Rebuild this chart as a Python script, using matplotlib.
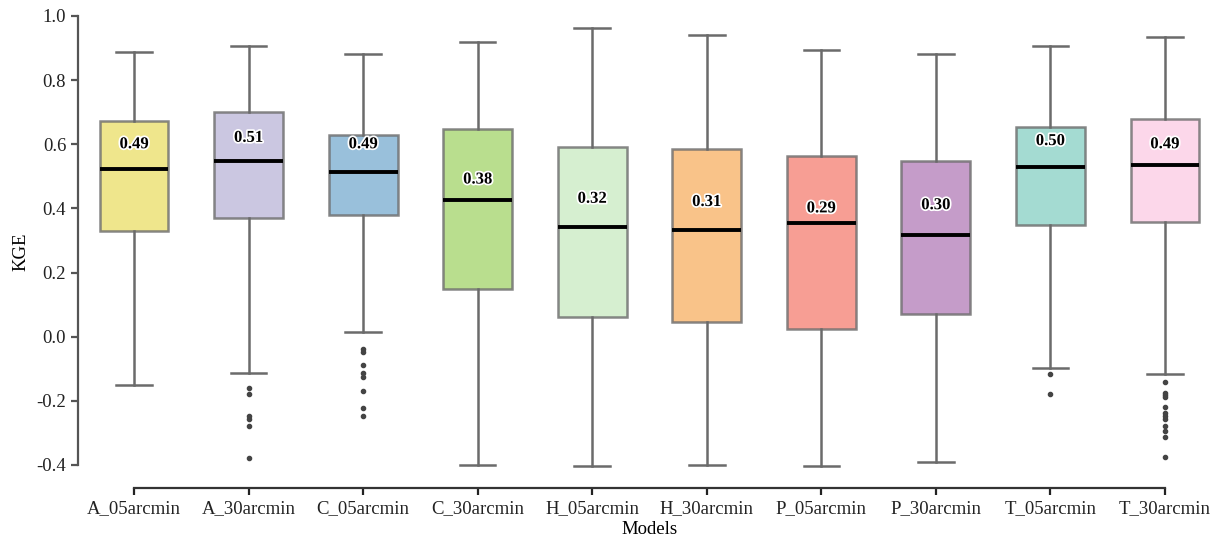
import matplotlib
matplotlib.use('Agg')
import matplotlib.pyplot as plt
import matplotlib.patheffects as pe

plt.rcParams['font.family'] = ['Liberation Serif', 'DejaVu Serif']

models = ['A_05arcmin', 'A_30arcmin', 'C_05arcmin', 'C_30arcmin', 'H_05arcmin',
          'H_30arcmin', 'P_05arcmin', 'P_30arcmin', 'T_05arcmin', 'T_30arcmin']

# box statistics of KGE per model
whis_hi = [0.888, 0.907, 0.882, 0.920, 0.964, 0.940, 0.895, 0.882, 0.907, 0.935]
q3 = [0.674, 0.700, 0.630, 0.649, 0.592, 0.586, 0.564, 0.549, 0.655, 0.680]
med = [0.524, 0.549, 0.515, 0.427, 0.343, 0.334, 0.355, 0.318, 0.530, 0.536]
q1 = [0.330, 0.371, 0.380, 0.150, 0.062, 0.047, 0.025, 0.072, 0.349, 0.358]
whis_lo = [-0.150, -0.112, 0.016, -0.400, -0.402, -0.400, -0.402, -0.390, -0.097, -0.115]
means = [0.49, 0.51, 0.49, 0.38, 0.32, 0.31, 0.29, 0.30, 0.50, 0.49]

outliers = [
    [],
    [-0.159, -0.178, -0.249, -0.256, -0.278, -0.377],
    [-0.037, -0.047, -0.087, -0.112, -0.125, -0.168, -0.221, -0.249],
    [], [], [], [], [],
    [-0.118, -0.178],
    [-0.140, -0.175, -0.181, -0.187, -0.218, -0.237, -0.246, -0.256,
     -0.278, -0.293, -0.312, -0.374],
]

colors = ['#ece070', '#bebada', '#80b1d3', '#a8d672', '#ccebc5',
          '#f8b56c', '#f5867a', '#b783bc', '#8dd3c7', '#fccde5']

stats = []
for i in range(len(models)):
    stats.append({'label': models[i], 'whishi': whis_hi[i], 'q3': q3[i], 'med': med[i],
                  'q1': q1[i], 'whislo': whis_lo[i], 'fliers': outliers[i]})

fig = plt.figure(figsize=(12.2, 5.41), dpi=100)
ax = fig.add_axes([78 / 1220, 53 / 541, 1143 / 1220, (488 - 16) / 541])

grey = '#6b6b6b'
bp = ax.bxp(stats, positions=range(len(models)), widths=0.6, patch_artist=True,
            boxprops=dict(edgecolor=grey, linewidth=1.8),
            whiskerprops=dict(color=grey, linewidth=1.8),
            capprops=dict(color=grey, linewidth=1.8),
            capwidths=0.31,
            medianprops=dict(color='black', linewidth=2.8),
            flierprops=dict(marker='o', markersize=3, markerfacecolor='#444444',
                            markeredgecolor='#444444', linestyle='none'))
for patch, c in zip(bp['boxes'], colors):
    patch.set_facecolor(c)
    patch.set_alpha(0.8)
    patch.set_edgecolor(grey)

for i, m in enumerate(means):
    ax.text(i, m + 0.11, '%.2f' % m, ha='center', va='center', fontsize=12,
            fontweight='bold', color='black',
            path_effects=[pe.withStroke(linewidth=2.5, foreground='white')])

ax.set_xlim(-0.49, 9.49)
ax.set_ylim(-0.472, 1.0)
ax.set_yticks([-0.4, -0.2, 0.0, 0.2, 0.4, 0.6, 0.8, 1.0])
ax.set_yticklabels(['-0.4', '-0.2', '0.0', '0.2', '0.4', '0.6', '0.8', '1.0'])
ax.set_xticks(range(len(models)))
ax.set_xticklabels(models)

ax.spines['top'].set_visible(False)
ax.spines['right'].set_visible(False)
ax.spines['left'].set_bounds(-0.4, 1.0)
ax.spines['bottom'].set_bounds(0, 9)
for s in ['left', 'bottom']:
    ax.spines[s].set_linewidth(1.6)
    ax.spines[s].set_color('#333333')
ax.spines['left'].set_color('#555555')
ax.tick_params(axis='both', labelsize=13.5, width=1.6, length=5, colors='#222222')
ax.tick_params(axis='y', colors='#555555', labelcolor='#222222')

ax.set_xlabel('Models', fontsize=13.5, labelpad=3)
ax.set_ylabel('KGE', fontsize=13.5, labelpad=5)

fig.savefig('out.png', dpi=100)
